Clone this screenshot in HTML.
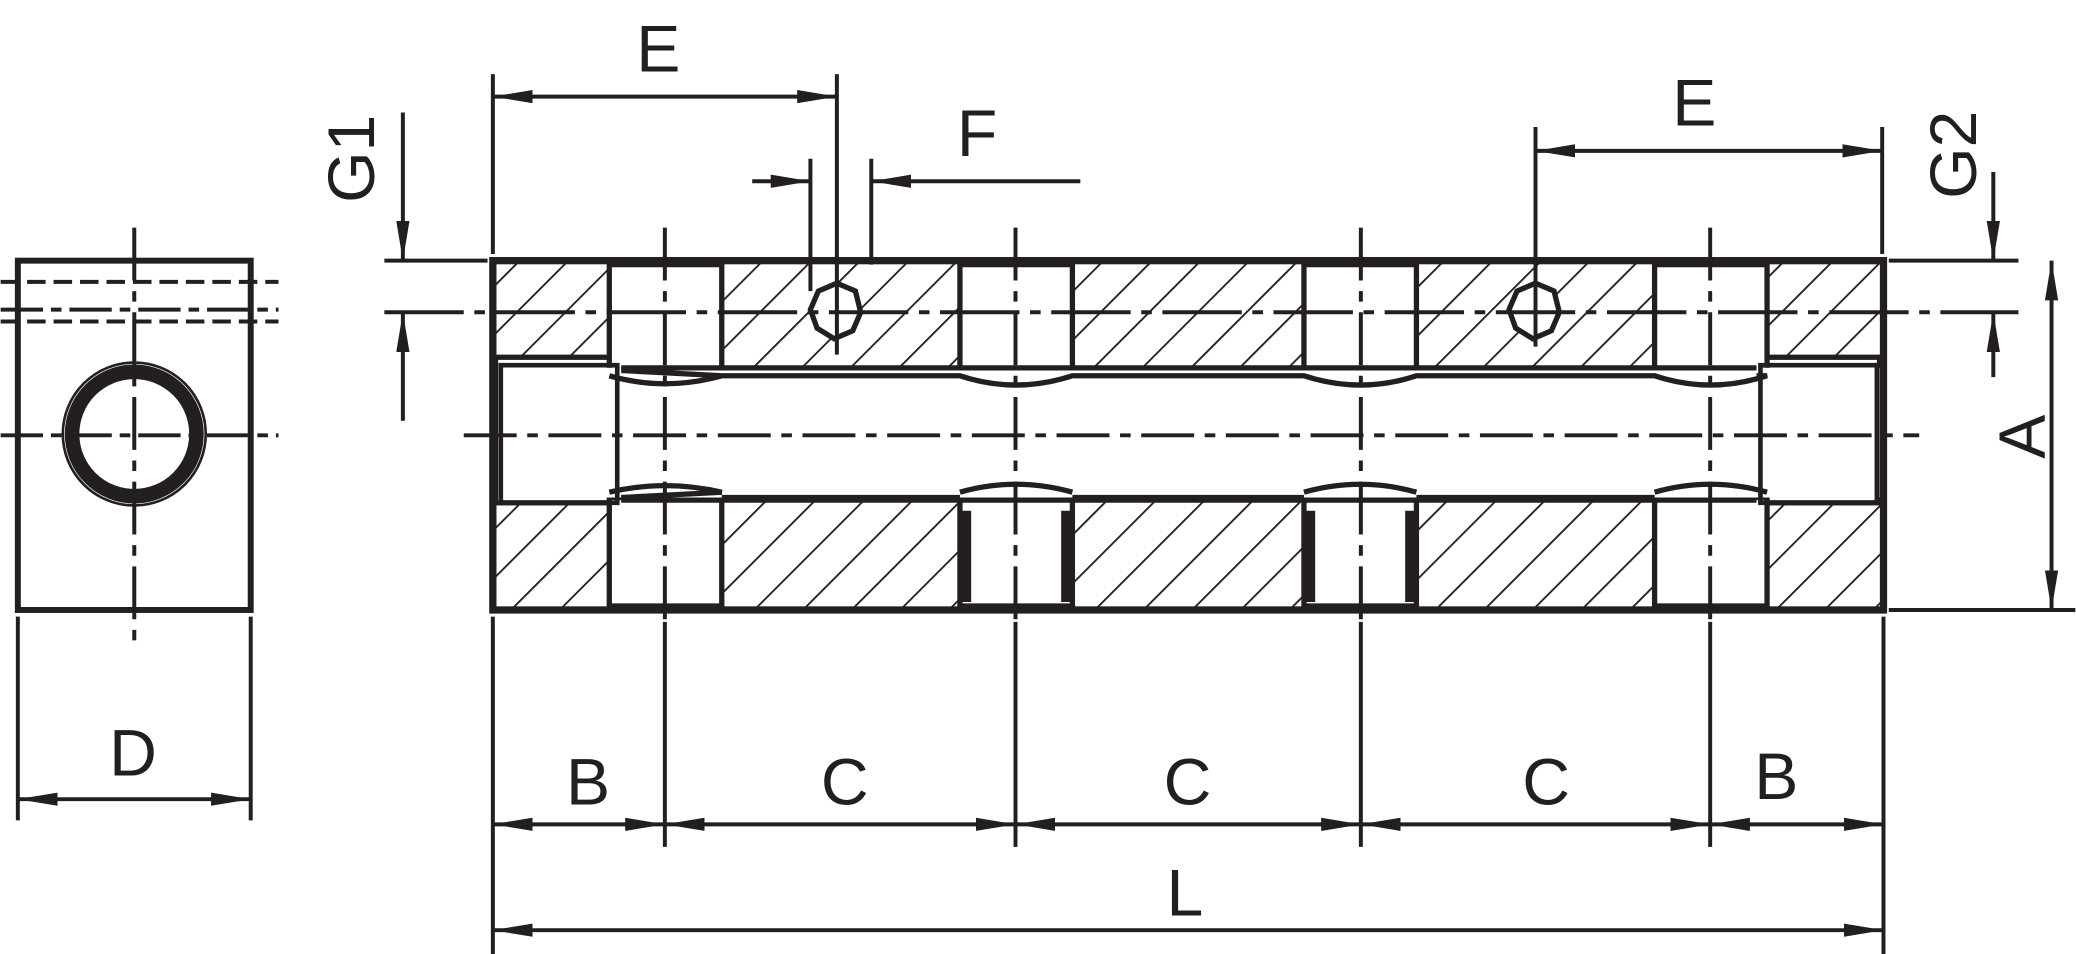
<!DOCTYPE html>
<html><head><meta charset="utf-8"><style>html,body{margin:0;padding:0;background:#fff}svg{display:block}</style></head>
<body>
<svg width="2076" height="954" viewBox="0 0 1568 721" xmlns="http://www.w3.org/2000/svg" font-family="'Liberation Sans', sans-serif">
<defs>
<pattern id="h" patternUnits="userSpaceOnUse" width="26" height="26" patternTransform="rotate(45)">
<line x1="0" y1="0" x2="0" y2="26" stroke="#231f20" stroke-width="2.8"/>
</pattern>
<marker id="a" viewBox="0 0 30 10" refX="30" refY="5" markerWidth="30" markerHeight="10" markerUnits="userSpaceOnUse" orient="auto-start-reverse"><path d="M0,0 L30,5 L0,10 z" fill="#231f20"/></marker>
</defs>
<g stroke="#231f20" fill="none">
<!-- side view -->
<rect x="13" y="197" width="176" height="264" stroke-width="4.5"/>
<line x1="0" y1="213" x2="210" y2="213" stroke-width="3" stroke-dasharray="14,6"/>
<line x1="0" y1="243" x2="210" y2="243" stroke-width="3" stroke-dasharray="14,6"/>
<line x1="0" y1="234" x2="210" y2="234" stroke-width="3" stroke-dasharray="32,6,8,6"/>
<line x1="0" y1="329" x2="210" y2="329" stroke-width="3" stroke-dasharray="32,6,8,6"/>
<line x1="101" y1="172" x2="101" y2="492" stroke-width="3" stroke-dasharray="40,8,8,8"/>
<circle cx="101" cy="328" r="47" stroke-width="11"/>
<circle cx="101" cy="328" r="54" stroke-width="2"/>
<!-- main body hatch -->
<rect x="374" y="198" width="1048" height="82" fill="url(#h)" stroke="none"/>
<rect x="374" y="376" width="1048" height="84" fill="url(#h)" stroke="none"/>
<g fill="#fff" stroke-width="4">
<rect x="374" y="270" width="95" height="110"/>
<rect x="1327" y="270" width="93" height="110"/>
<rect x="460" y="200" width="85" height="80"/>
<rect x="725" y="200" width="85" height="80"/>
<rect x="985" y="200" width="85" height="80"/>
<rect x="1250" y="200" width="85" height="80"/>
<rect x="460" y="376" width="85" height="82"/>
<rect x="725" y="376" width="85" height="82"/>
<rect x="985" y="376" width="85" height="82"/>
<rect x="1250" y="376" width="85" height="82"/>
</g>
<rect x="380" y="278" width="1040" height="98" fill="#fff" stroke="none"/>
<g stroke-width="4">
<path d="M469,280 L545,284 Q502,296 460,284 M545,284 L725,284 Q767,298 810,284 L985,284 Q1028,298 1070,284 L1250,284 Q1292,298 1335,284 L1327,284"/>
<path d="M469,376 L545,372 Q502,362 460,372 M545,376 L725,376 M725,372 Q767,360 810,372 M810,376 L985,376 M985,372 Q1028,360 1070,372 M1070,376 L1250,376 M1250,372 Q1292,360 1335,372"/>
<rect x="378" y="276" width="88" height="104" stroke-width="3.5"/>
<rect x="1330" y="276" width="88" height="104" stroke-width="3.5"/>
<line x1="469" y1="278" x2="1327" y2="278"/>
<line x1="469" y1="378" x2="1327" y2="378"/>
<line x1="730" y1="386" x2="730" y2="455" stroke-width="7"/>
<line x1="805" y1="386" x2="805" y2="455" stroke-width="7"/>
<line x1="990" y1="386" x2="990" y2="455" stroke-width="7"/>
<line x1="1065" y1="386" x2="1065" y2="455" stroke-width="7"/>
</g>
<rect x="372" y="197" width="1051" height="264" stroke-width="5.5"/>
<polygon points="632,214 646,220 650,236 644,250 630,256 617,248 612,234 618,220" stroke-width="4" fill="#fff"/>
<polygon points="1160,214 1174,220 1178,236 1172,250 1158,256 1145,248 1140,234 1146,220" stroke-width="4" fill="#fff"/>
<!-- centerlines -->
<g stroke-width="3" stroke-dasharray="40,8,8,8">
<line x1="350" y1="329" x2="1450" y2="329"/>
<line x1="502" y1="172" x2="502" y2="470"/>
<line x1="767" y1="172" x2="767" y2="470"/>
<line x1="1028" y1="172" x2="1028" y2="470"/>
<line x1="1292" y1="172" x2="1292" y2="470"/>
</g>
<line x1="290" y1="236" x2="1525" y2="236" stroke-width="3" stroke-dasharray="60,8,8,8"/>
<g stroke-width="3">
<!-- G1 / G2 -->
<line x1="290" y1="197" x2="368" y2="197"/>
<line x1="1427" y1="197" x2="1525" y2="197"/>
<line x1="304" y1="85" x2="304" y2="197" marker-end="url(#a)"/>
<line x1="304" y1="318" x2="304" y2="236" marker-end="url(#a)"/>
<line x1="1506" y1="130" x2="1506" y2="197" marker-end="url(#a)"/>
<line x1="1506" y1="285" x2="1506" y2="236" marker-end="url(#a)"/>
<!-- A -->
<line x1="1427" y1="461" x2="1568" y2="461"/>
<line x1="1550" y1="197" x2="1550" y2="461" marker-start="url(#a)" marker-end="url(#a)"/>
<!-- E left -->
<line x1="372" y1="56" x2="372" y2="192"/>
<line x1="632" y1="56" x2="632" y2="268"/>
<line x1="372" y1="73" x2="632" y2="73" marker-start="url(#a)" marker-end="url(#a)"/>
<!-- E right -->
<line x1="1160" y1="96" x2="1160" y2="262"/>
<line x1="1422" y1="96" x2="1422" y2="192"/>
<line x1="1160" y1="114" x2="1422" y2="114" marker-start="url(#a)" marker-end="url(#a)"/>
<!-- F -->
<line x1="612" y1="120" x2="612" y2="220"/>
<line x1="658" y1="120" x2="658" y2="200"/>
<line x1="568" y1="137" x2="612" y2="137" marker-end="url(#a)"/>
<line x1="816" y1="137" x2="658" y2="137" marker-end="url(#a)"/>
<!-- bottom dims -->
<line x1="13" y1="466" x2="13" y2="620"/>
<line x1="189" y1="466" x2="189" y2="620"/>
<line x1="13" y1="604" x2="189" y2="604" marker-start="url(#a)" marker-end="url(#a)"/>
<line x1="372" y1="466" x2="372" y2="721"/>
<line x1="1423" y1="466" x2="1423" y2="721"/>
<line x1="502" y1="470" x2="502" y2="640"/>
<line x1="767" y1="470" x2="767" y2="640"/>
<line x1="1028" y1="470" x2="1028" y2="640"/>
<line x1="1292" y1="470" x2="1292" y2="640"/>
<line x1="372" y1="623" x2="502" y2="623" marker-start="url(#a)" marker-end="url(#a)"/>
<line x1="502" y1="623" x2="767" y2="623" marker-start="url(#a)" marker-end="url(#a)"/>
<line x1="767" y1="623" x2="1028" y2="623" marker-start="url(#a)" marker-end="url(#a)"/>
<line x1="1028" y1="623" x2="1292" y2="623" marker-start="url(#a)" marker-end="url(#a)"/>
<line x1="1292" y1="623" x2="1423" y2="623" marker-start="url(#a)" marker-end="url(#a)"/>
<line x1="372" y1="703" x2="1423" y2="703" marker-start="url(#a)" marker-end="url(#a)"/>
</g>
</g>
<g fill="#231f20" font-size="50" text-anchor="middle">
<text x="100" y="586">D</text>
<text x="444" y="608">B</text>
<text x="638" y="608">C</text>
<text x="897" y="608">C</text>
<text x="1168" y="608">C</text>
<text x="1342" y="604">B</text>
<text x="895" y="692">L</text>
<text x="497" y="54">E</text>
<text x="1280" y="95">E</text>
<text x="738" y="118">F</text>
<text transform="translate(282,120) rotate(-90)">G1</text>
<text transform="translate(1493,117) rotate(-90)">G2</text>
<text transform="translate(1545,330) rotate(-90)">A</text>
</g>
</svg>
</body></html>
